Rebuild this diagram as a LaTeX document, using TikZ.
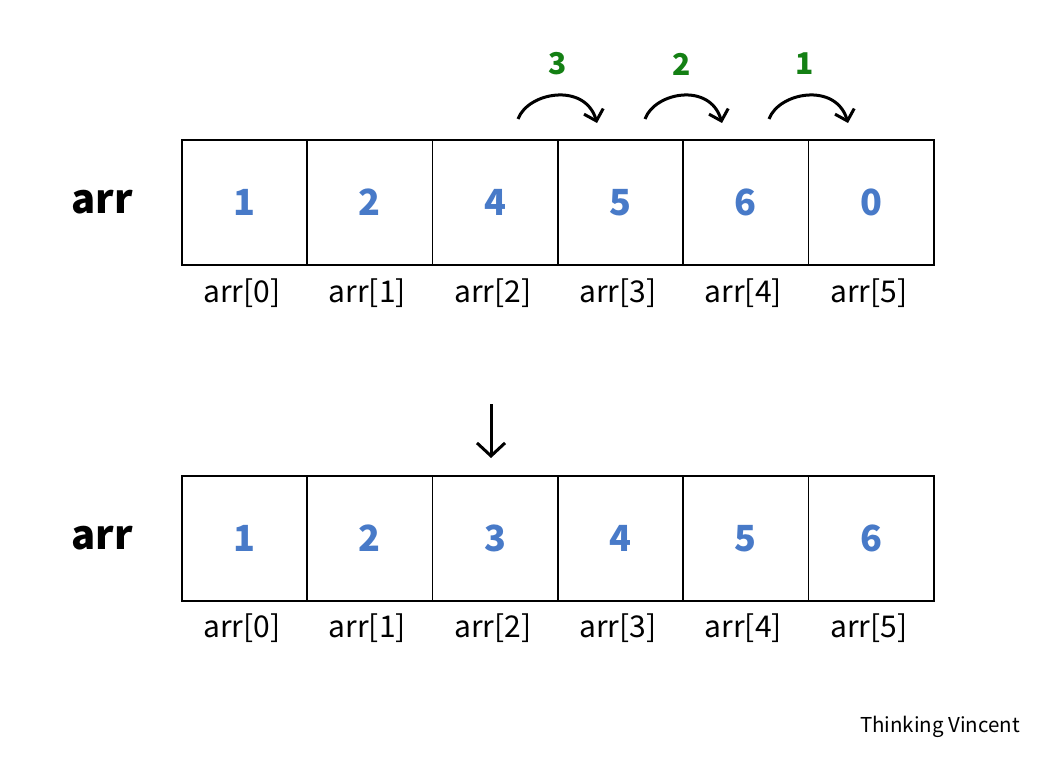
\documentclass[tikz,border=0pt]{standalone}
\usepackage{fontspec}
\setmainfont{Noto Sans CJK SC}
\usetikzlibrary{arrows.meta}
\definecolor{numblue}{RGB}{72,122,200}
\definecolor{numgreen}{RGB}{20,128,20}
\tikzset{
  cell/.style={draw=black, line width=1.6pt, minimum width=125.3pt, minimum height=125pt, inner sep=0pt, anchor=north west, font=\bfseries\fontsize{36}{36}\selectfont, text=numblue},
  idx/.style={font=\fontsize{30}{30}\selectfont},
  arrname/.style={font=\bfseries\fontsize{40}{40}\selectfont},
  stepnum/.style={font=\bfseries\fontsize{30}{30}\selectfont, text=numgreen},
  hop/.style={line width=3pt, -{Straight Barb[length=10pt,width=20pt,line width=3pt]}},
}
\begin{document}
\begin{tikzpicture}[x=1pt,y=-1pt]
\useasboundingbox (0,0) rectangle (1046,760);
\fill[white] (0,0) rectangle (1046,760);
% top array
\foreach \v [count=\i from 0] in {1,2,4,5,6,0} {
  \node[cell] (t\i) at (181+125.33*\i,139) {\v};
  \node[idx] (ti\i) at (242+125.33*\i,293) {arr[\i]};
}
\node[arrname] (tname) at (102,202) {arr};
% bottom array
\foreach \v [count=\i from 0] in {1,2,3,4,5,6} {
  \node[cell] (b\i) at (181+125.33*\i,475) {\v};
  \node[idx] (bi\i) at (242+125.33*\i,628) {arr[\i]};
}
\node[arrname] (bname) at (102,538) {arr};
% hops
\coordinate (h1s) at (518,119); \coordinate (h1e) at (597,123);
\coordinate (h2s) at (645,119); \coordinate (h2e) at (722,123);
\coordinate (h3s) at (769,119); \coordinate (h3e) at (848,123);
\draw[hop] (h1s) .. controls (528,92) and (585,82) .. (h1e);
\draw[hop] (h2s) .. controls (655,92) and (710,82) .. (h2e);
\draw[hop] (h3s) .. controls (779,92) and (836,82) .. (h3e);
\node[stepnum] (s3) at (558,64) {3};
\node[stepnum] (s2) at (682,64) {2};
\node[stepnum] (s1) at (805,64) {1};
% down arrow
\coordinate (dtop) at (491,404);
\coordinate (dbot) at (491,458);
\draw[line width=3pt, -{Straight Barb[length=13pt,width=28pt,line width=3pt]}] (dtop) -- (dbot);
\node[font=\fontsize{20.5}{20.5}\selectfont] (wm) at (940,727) {Thinking Vincent};
\end{tikzpicture}
\end{document}
